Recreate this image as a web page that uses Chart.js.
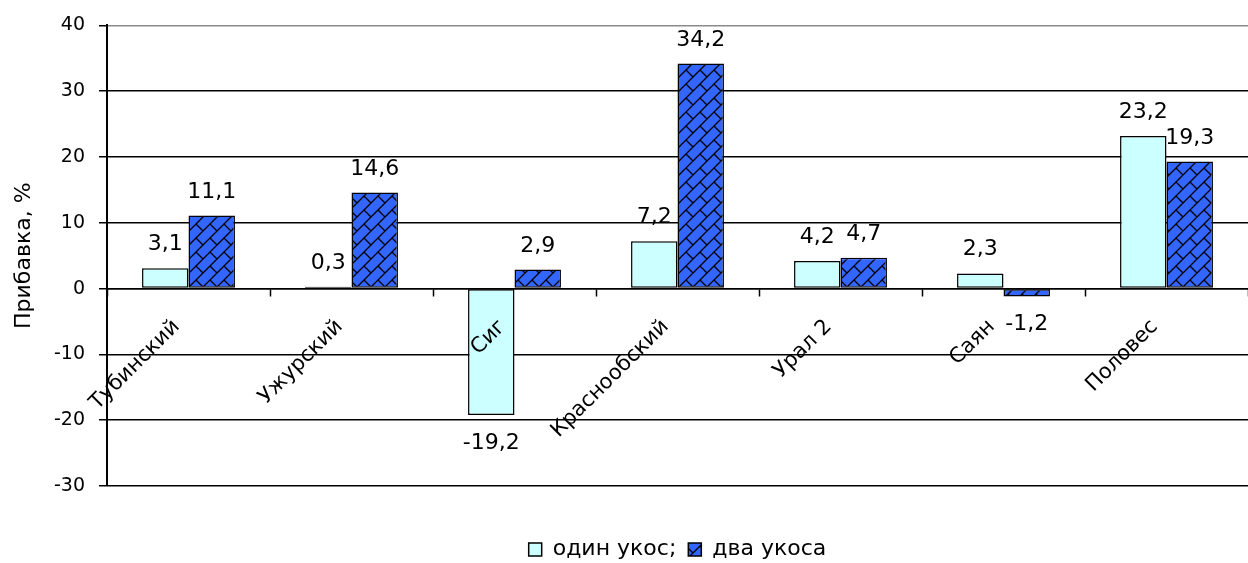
<!DOCTYPE html>
<html>
<head>
<meta charset="utf-8">
<script src="https://cdn.jsdelivr.net/npm/chart.js@4.4.1/dist/chart.umd.min.js"></script>
<style>
  html, body { margin: 0; padding: 0; background: #fff; }
  #wrap { width: 1248px; height: 563px; }
</style>
</head>
<body>
<div id="wrap"><canvas id="chart"></canvas></div>
<script>
// Сорта и прибавка урожая, %
const varieties = ['Тубинский', 'Ужурский', 'Сиг', 'Краснообский', 'Урал 2', 'Саян', 'Половес'];
const oneCut = [3.1, 0.3, -19.2, 7.2, 4.2, 2.3, 23.2];
const twoCuts = [11.1, 14.6, 2.9, 34.2, 4.7, -1.2, 19.3];
const seriesNames = ['один укос;', 'два укоса'];
const yMin = -30, yMax = 40, yStep = 10;

const FONT = 'DejaVu Sans';

// diagonal brick hatch for the second series
function brickPattern() {
    const s = 14, T = s * 2;
    const c = document.createElement('canvas');
    c.width = T; c.height = T;
    const g = c.getContext('2d');
    g.fillStyle = '#3366ff';
    g.fillRect(0, 0, T, T);
    g.strokeStyle = '#000';
    g.lineWidth = 1.3;
    g.beginPath();
    for (let k = -3; k <= 7; k++) {
        const c0 = k * s;
        // long "/" lines
        g.moveTo(c0 + T, -T);
        g.lineTo(c0 - 2 * T, 2 * T);
        // short "\" joints, staggered from row to row
        for (let m = -6; m <= 6; m++) {
            const p = m * s;
            g.moveTo(p, c0 - p);
            g.lineTo(p + s / 2, c0 - p + s / 2);
        }
    }
    g.stroke();
    return document.getElementById('chart').getContext('2d').createPattern(c, 'repeat');
}

const fmt = v => v.toFixed(1).replace('.', ',');

// value captions above / below each bar
const valueLabels = {
    id: 'valueLabels',
    afterDatasetsDraw(chart) {
        const ctx = chart.ctx;
        ctx.save();
        ctx.font = `22px "${FONT}"`;
        ctx.fillStyle = '#000';
        ctx.textAlign = 'center';
        ctx.textBaseline = 'alphabetic';
        chart.data.datasets.forEach((ds, i) => {
            chart.getDatasetMeta(i).data.forEach((bar, j) => {
                const v = ds.data[j];
                const y = v >= 0 ? bar.y - 18 : bar.y + 34;
                ctx.fillText(fmt(v), bar.x, y);
            });
        });
        ctx.restore();
    }
};

new Chart(document.getElementById('chart'), {
    type: 'bar',
    data: {
        labels: varieties,
        datasets: [
            {
                label: seriesNames[0],
                data: oneCut,
                backgroundColor: '#ccffff',
                borderColor: '#000',
                borderWidth: 1.5,
                borderSkipped: false
            },
            {
                label: seriesNames[1],
                data: twoCuts,
                backgroundColor: brickPattern(),
                borderColor: '#000',
                borderWidth: 1.5,
                borderSkipped: false
            }
        ]
    },
    options: {
        responsive: true,
        maintainAspectRatio: false,
        animation: false,
        datasets: { bar: { categoryPercentage: 0.57, barPercentage: 1 } },
        layout: { padding: { top: 15, right: -13, bottom: -7.5, left: 0 } },
        plugins: {
            tooltip: { enabled: false },
            legend: {
                position: 'bottom',
                fullSize: false,
                title: { display: true, text: '', font: { size: 10 }, padding: { top: 14, bottom: 14.5 } },
                labels: {
                    boxWidth: 13,
                    boxHeight: 13,
                    padding: 12,
                    color: '#000',
                    font: { family: FONT, size: 22 }
                }
            }
        },
        scales: {
            x: {
                position: { y: 0 },
                offset: true,
                grid: {
                    display: true,
                    offset: true,
                    drawOnChartArea: false,
                    drawTicks: true,
                    tickLength: 7,
                    tickColor: '#000',
                    tickWidth: 1.5
                },
                border: { display: true, color: '#000', width: 1.5, z: 1 },
                ticks: {
                    z: 1,
                    autoSkip: false,
                    minRotation: 45,
                    maxRotation: 45,
                    padding: 19,
                    labelOffset: -12,
                    color: '#000',
                    font: { family: FONT, size: 21 }
                }
            },
            y: {
                min: yMin,
                max: yMax,
                afterFit: s => { s.width = 107; },
                ticks: {
                    stepSize: yStep,
                    padding: 14,
                    color: '#000',
                    font: { family: FONT, size: 19 }
                },
                grid: {
                    color: c => c.tick && c.tick.value === yMax ? '#8a8a8a' : '#000',
                    lineWidth: 1.5,
                    tickLength: 8,
                    tickColor: '#000'
                },
                border: { color: '#000', width: 2 },
                title: {
                    display: true,
                    text: 'Прибавка, %',
                    color: '#000',
                    font: { family: FONT, size: 22 },
                    padding: { top: 11, bottom: 0 }
                }
            }
        }
    },
    plugins: [valueLabels]
});
</script>
</body>
</html>
